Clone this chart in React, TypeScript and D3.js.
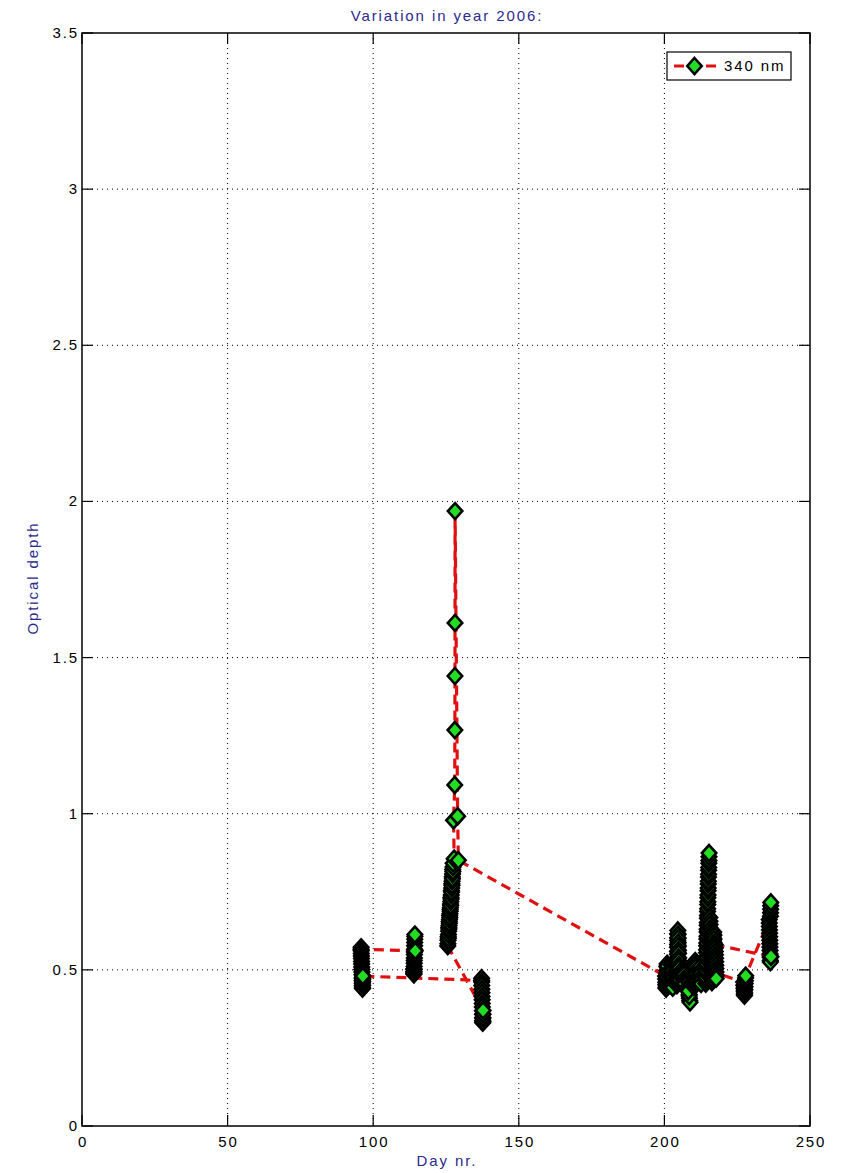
import React from "react";
import * as d3 from "d3";

// Page and plot-box geometry
const W = 844;
const H = 1173;
const PLOT = { left: 82, right: 810, top: 33, bottom: 1126 };

const xTicks = [0, 50, 100, 150, 200, 250];
const yTicks = [0, 0.5, 1, 1.5, 2, 2.5, 3, 3.5];
const yTickLabels = ["0", "0.5", "1", "1.5", "2", "2.5", "3", "3.5"];

const titleText = "Variation in year 2006:";
const xLabel = "Day nr.";
const yLabel = "Optical depth";
const seriesName = "340 nm";

// Optical depth at 340 nm, [day of year, tau], in measurement order
const seg114: [number, number][] = [
  [113.9, 0.502], [113.93, 0.494], [113.95, 0.488], [113.98, 0.486], [114.0, 0.493], [114.03, 0.503],
  [114.05, 0.511], [114.08, 0.521], [114.1, 0.53], [114.13, 0.538], [114.15, 0.549], [114.18, 0.557],
  [114.2, 0.566], [114.22, 0.577], [114.25, 0.588], [114.27, 0.598], [114.3, 0.607], [114.32, 0.613],
  [114.44, 0.561],
];

const seg096: [number, number][] = [
  [95.82, 0.566], [95.85, 0.572], [95.88, 0.561], [95.91, 0.552], [95.94, 0.544], [95.97, 0.536],
  [96.0, 0.527], [96.03, 0.519], [96.06, 0.509], [96.09, 0.501], [96.12, 0.493], [96.15, 0.484],
  [96.18, 0.474], [96.21, 0.466], [96.24, 0.457], [96.27, 0.449], [96.3, 0.443], [96.33, 0.44],
  [96.36, 0.451], [96.39, 0.462], [96.42, 0.471], [96.45, 0.48],
];

const seg137: [number, number][] = [
  [137.2, 0.466], [137.23, 0.473], [137.26, 0.461], [137.29, 0.45], [137.32, 0.438], [137.35, 0.427],
  [137.38, 0.415], [137.41, 0.404], [137.44, 0.392], [137.47, 0.381], [137.5, 0.369], [137.53, 0.358],
  [137.56, 0.347], [137.59, 0.338], [137.62, 0.331], [137.65, 0.335], [137.68, 0.346], [137.71, 0.358],
  [137.74, 0.37],
];

const seg126: [number, number][] = [
  [125.6, 0.576], [125.65, 0.584], [125.7, 0.595], [125.75, 0.606], [125.8, 0.601], [125.85, 0.613],
  [125.9, 0.624], [125.95, 0.636], [126.0, 0.631], [126.05, 0.642], [126.1, 0.655], [126.15, 0.649],
  [126.2, 0.661], [126.25, 0.674], [126.3, 0.668], [126.35, 0.68], [126.4, 0.693], [126.45, 0.688],
  [126.5, 0.699], [126.55, 0.711], [126.6, 0.706], [126.65, 0.719], [126.7, 0.732], [126.75, 0.727],
  [126.8, 0.74], [126.85, 0.754], [126.9, 0.749], [126.95, 0.762], [127.0, 0.776], [127.05, 0.771],
  [127.1, 0.784], [127.15, 0.798], [127.2, 0.792], [127.25, 0.807], [127.3, 0.821], [127.35, 0.815],
  [127.4, 0.829], [127.45, 0.841], [127.8, 0.856], [127.6, 0.979], [128.0, 1.092], [128.05, 1.268],
  [128.08, 1.441], [128.1, 1.611], [128.12, 1.969], [129.0, 0.992], [129.25, 0.851],
];

const seg200: [number, number][] = [
  [200.4, 0.48], [200.44, 0.471], [200.48, 0.46], [200.52, 0.452], [200.56, 0.443], [200.6, 0.44],
  [200.64, 0.448], [200.68, 0.458], [200.72, 0.469], [200.76, 0.478], [200.8, 0.49], [200.84, 0.499],
  [200.88, 0.51], [200.92, 0.519], [200.96, 0.512],
];

const seg202: [number, number][] = [
  [202.3, 0.516], [202.38, 0.505], [202.46, 0.495], [202.54, 0.483], [202.62, 0.473], [202.7, 0.461],
  [202.78, 0.452], [202.86, 0.443],
];

const seg204: [number, number][] = [
  [204.3, 0.451], [204.32, 0.462], [204.34, 0.472], [204.36, 0.484], [204.38, 0.494], [204.4, 0.506],
  [204.42, 0.515], [204.44, 0.528], [204.46, 0.537], [204.48, 0.55], [204.5, 0.559], [204.52, 0.572],
  [204.54, 0.581], [204.56, 0.594], [204.58, 0.603], [204.6, 0.616], [204.62, 0.626], [204.66, 0.613],
  [204.7, 0.601], [204.74, 0.587], [204.78, 0.576], [204.82, 0.563], [204.86, 0.553], [204.9, 0.539],
  [204.94, 0.529], [204.98, 0.515], [205.02, 0.505], [205.06, 0.491], [205.1, 0.481], [205.14, 0.469],
];

const seg206: [number, number][] = [
  [206.3, 0.471], [206.38, 0.48], [206.46, 0.493], [206.54, 0.503], [206.62, 0.494], [206.7, 0.485],
  [206.78, 0.472], [206.86, 0.463], [206.94, 0.455],
];

const seg208: [number, number][] = [
  [208.2, 0.461], [208.28, 0.449], [208.36, 0.441], [208.44, 0.429], [208.52, 0.421], [208.6, 0.409],
  [208.7, 0.401], [208.8, 0.396], [208.5, 0.416], [208.22, 0.432],
];

const seg210: [number, number][] = [
  [210.1, 0.446], [210.16, 0.457], [210.22, 0.466], [210.28, 0.479], [210.34, 0.488], [210.4, 0.501],
  [210.46, 0.51], [210.52, 0.523], [210.58, 0.528], [210.64, 0.517], [210.7, 0.508], [210.76, 0.495],
  [210.82, 0.486], [210.88, 0.473], [210.94, 0.463],
];

const seg212: [number, number][] = [
  [212.0, 0.461], [212.06, 0.47], [212.12, 0.483], [212.18, 0.492], [212.24, 0.505], [212.3, 0.511],
  [212.36, 0.498], [212.42, 0.489], [212.48, 0.476], [212.54, 0.467], [212.6, 0.455],
];

const seg214: [number, number][] = [
  [214.2, 0.456], [214.23, 0.467], [214.26, 0.476], [214.29, 0.489], [214.32, 0.498], [214.35, 0.511],
  [214.38, 0.52], [214.41, 0.533], [214.44, 0.542], [214.47, 0.555], [214.5, 0.564], [214.53, 0.577],
  [214.56, 0.586], [214.59, 0.599], [214.62, 0.608], [214.65, 0.621], [214.68, 0.63], [214.71, 0.643],
  [214.74, 0.652], [214.77, 0.665], [214.8, 0.674], [214.83, 0.687], [214.86, 0.696], [214.89, 0.709],
  [214.92, 0.718], [214.95, 0.731], [214.98, 0.74], [215.01, 0.753], [215.04, 0.762], [215.07, 0.775],
  [215.1, 0.784], [215.13, 0.797], [215.16, 0.806], [215.19, 0.819], [215.22, 0.828], [215.25, 0.841],
  [215.28, 0.85], [215.31, 0.862], [215.34, 0.874],
];

const seg215: [number, number][] = [
  [215.6, 0.668], [215.64, 0.656], [215.68, 0.645], [215.72, 0.633], [215.76, 0.622], [215.8, 0.61],
  [215.84, 0.599], [215.88, 0.587], [215.92, 0.576], [215.96, 0.564], [216.0, 0.553], [216.04, 0.541],
  [216.08, 0.53], [216.12, 0.518], [216.16, 0.507], [216.2, 0.495], [216.24, 0.484], [216.28, 0.472],
  [216.32, 0.461],
];

const seg216: [number, number][] = [
  [216.5, 0.47], [216.53, 0.482], [216.56, 0.491], [216.59, 0.504], [216.62, 0.513], [216.65, 0.526],
  [216.68, 0.535], [216.71, 0.548], [216.74, 0.557], [216.77, 0.57], [216.8, 0.579], [216.83, 0.592],
  [216.86, 0.601], [216.89, 0.613], [216.92, 0.621], [216.96, 0.61], [217.0, 0.598], [217.04, 0.586],
  [217.08, 0.574], [217.12, 0.562], [217.16, 0.55], [217.2, 0.538], [217.24, 0.526], [217.28, 0.514],
  [217.32, 0.502], [217.36, 0.491],
];

const seg228: [number, number][] = [
  [227.2, 0.461], [227.26, 0.451], [227.32, 0.441], [227.38, 0.432], [227.44, 0.423], [227.5, 0.418],
  [227.56, 0.426], [227.62, 0.436], [227.68, 0.446], [227.74, 0.456], [227.8, 0.465], [227.86, 0.474],
  [227.92, 0.481],
];

const seg236: [number, number][] = [
  [236.0, 0.661], [236.03, 0.65], [236.06, 0.639], [236.09, 0.628], [236.12, 0.617], [236.15, 0.606],
  [236.18, 0.595], [236.21, 0.584], [236.24, 0.573], [236.27, 0.562], [236.3, 0.551], [236.33, 0.54],
  [236.36, 0.53], [236.39, 0.525], [236.42, 0.672], [236.45, 0.683], [236.48, 0.694], [236.51, 0.705],
  [236.54, 0.716], [236.6, 0.542],
];

const seg217: [number, number][] = [
  [217.4, 0.581], [217.44, 0.57], [217.48, 0.559], [217.52, 0.548], [217.56, 0.537], [217.6, 0.526],
  [217.64, 0.515], [217.68, 0.504], [217.72, 0.493], [217.76, 0.482], [217.8, 0.472],
];

const series: [number, number][] = [
  ...seg114, ...seg096, ...seg137, ...seg126, ...seg200, ...seg202, ...seg204, ...seg206,
  ...seg208, ...seg210, ...seg212, ...seg214, ...seg215, ...seg216, ...seg228, ...seg236, ...seg217,
];

const NAVY = "#2a2a8c";
const RED = "#e01010";
const GREEN = "#22dd22";
const FONT = "'Liberation Sans', Arial, Helvetica, sans-serif";

const RX = 7.2;
const RY = 8.0;
const MARKER_STROKE = 2.6;
const DASH = [10, 6];
const diamond = (cx: number, cy: number) =>
  `M${cx},${cy - RY}L${cx + RX},${cy}L${cx},${cy + RY}L${cx - RX},${cy}Z`;

export default function App() {
  const x = d3.scaleLinear().domain([0, 250]).range([PLOT.left, PLOT.right]);
  const y = d3.scaleLinear().domain([0, 3.5]).range([PLOT.bottom, PLOT.top]);
  const line = d3
    .line<[number, number]>()
    .x((d) => x(d[0]))
    .y((d) => y(d[1]));

  // Dash phase: the trace climbs to the peak and drops back along nearly the
  // same track, so set the phase so the two passes' dashes interleave.
  const peakIdx = d3.maxIndex(series, (d) => d[1]);
  let lenToPeak = 0;
  for (let i = 1; i <= peakIdx; i++) {
    const dx = x(series[i][0]) - x(series[i - 1][0]);
    const dy = y(series[i][1]) - y(series[i - 1][1]);
    lenToPeak += Math.hypot(dx, dy);
  }
  const period = DASH[0] + DASH[1];
  const dashOffset = (((1.5 - lenToPeak) % period) + period) % period;

  const tickLen = 11;
  const cx = (PLOT.left + PLOT.right) / 2;

  // legend box
  const lg = { x0: 667, x1: 791, y0: 52, y1: 80 };
  const lgMid = (lg.y0 + lg.y1) / 2;

  const txt = { fontSize: 15, letterSpacing: 1.9 };

  return (
    <svg
      width={W}
      height={H}
      style={{ position: "absolute", left: 0, top: 0, background: "#fff", display: "block" }}
      fontFamily={FONT}
    >
      <rect x={0} y={0} width={W} height={H} fill="#fff" />

      {/* grid */}
      <g stroke="#000" strokeWidth={1} strokeDasharray="1,4">
        {xTicks.slice(1, -1).map((t) => (
          <line key={"gx" + t} x1={x(t)} x2={x(t)} y1={PLOT.top} y2={PLOT.bottom} />
        ))}
        {yTicks.slice(1, -1).map((t) => (
          <line key={"gy" + t} x1={PLOT.left} x2={PLOT.right} y1={y(t)} y2={y(t)} />
        ))}
      </g>

      {/* ticks on all four sides */}
      <g stroke="#000" strokeWidth={1.2}>
        {xTicks.map((t) => (
          <g key={"tx" + t}>
            <line x1={x(t)} x2={x(t)} y1={PLOT.bottom} y2={PLOT.bottom - tickLen} />
            <line x1={x(t)} x2={x(t)} y1={PLOT.top} y2={PLOT.top + tickLen} />
          </g>
        ))}
        {yTicks.map((t) => (
          <g key={"ty" + t}>
            <line x1={PLOT.left} x2={PLOT.left + tickLen} y1={y(t)} y2={y(t)} />
            <line x1={PLOT.right} x2={PLOT.right - tickLen} y1={y(t)} y2={y(t)} />
          </g>
        ))}
      </g>

      {/* data line */}
      <path
        d={line(series) || ""}
        fill="none"
        stroke={RED}
        strokeWidth={3.2}
        strokeDasharray={DASH.join(",")}
        strokeDashoffset={dashOffset}
        strokeLinejoin="round"
      />

      {/* markers */}
      <g fill={GREEN} stroke="#000" strokeWidth={MARKER_STROKE} strokeLinejoin="miter">
        {series.map((d, i) => (
          <path key={i} d={diamond(x(d[0]), y(d[1]))} />
        ))}
      </g>

      {/* axes box */}
      <rect
        x={PLOT.left}
        y={PLOT.top}
        width={PLOT.right - PLOT.left}
        height={PLOT.bottom - PLOT.top}
        fill="none"
        stroke="#000"
        strokeWidth={1.5}
      />

      {/* tick labels */}
      <g fill="#000" {...txt}>
        {xTicks.map((t) => (
          <text key={"lx" + t} x={x(t) + 1} y={1147} textAnchor="middle">
            {String(t)}
          </text>
        ))}
        {yTicks.map((t, i) => (
          <text key={"ly" + t} x={79} y={y(t) + 5} textAnchor="end">
            {yTickLabels[i]}
          </text>
        ))}
      </g>

      {/* titles */}
      <text x={cx + 1} y={21} textAnchor="middle" fill={NAVY} {...txt}>
        {titleText}
      </text>
      <text x={cx + 1} y={1166} textAnchor="middle" fill={NAVY} {...txt}>
        {xLabel}
      </text>
      <text
        x={0}
        y={0}
        transform={`translate(38,578) rotate(-90)`}
        textAnchor="middle"
        fill={NAVY}
        {...txt}
      >
        {yLabel}
      </text>

      {/* legend */}
      <rect x={lg.x0} y={lg.y0} width={lg.x1 - lg.x0} height={lg.y1 - lg.y0} fill="#fff" stroke="#000" strokeWidth={1.2} />
      <line x1={673} x2={716} y1={lgMid} y2={lgMid} stroke={RED} strokeWidth={3.2} strokeDasharray={DASH.join(",")} strokeDashoffset={-1} />
      <path d={diamond(694.5, lgMid)} fill={GREEN} stroke="#000" strokeWidth={MARKER_STROKE} />
      <text x={724} y={lgMid + 5} fill="#000" {...txt}>
        {seriesName}
      </text>
    </svg>
  );
}
